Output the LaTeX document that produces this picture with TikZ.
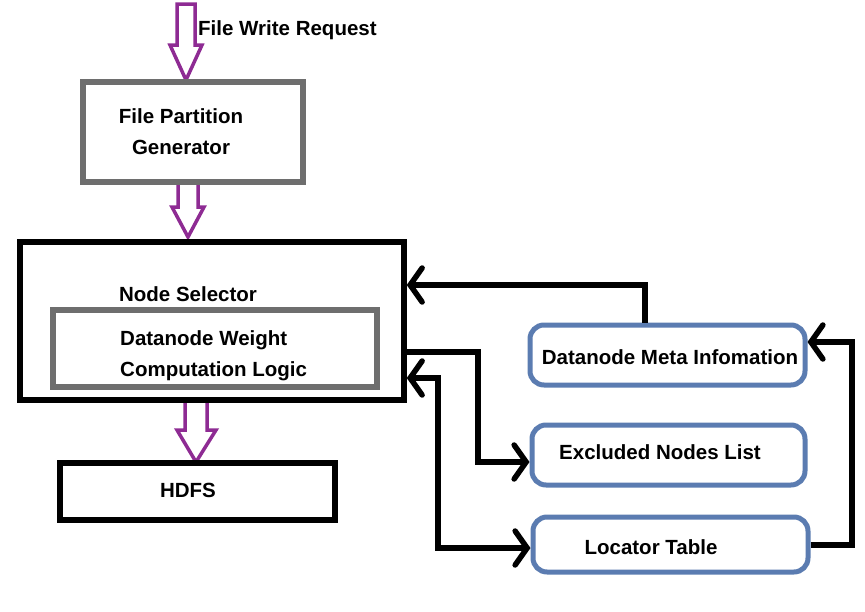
\documentclass[tikz,border=0pt]{standalone}
\usepackage{fontspec}
\setmainfont{Liberation Sans}
\usetikzlibrary{arrows.meta,calc}
\definecolor{purp}{RGB}{142,43,147}
\definecolor{boxgray}{RGB}{110,110,110}
\definecolor{pillblue}{RGB}{91,124,177}
\begin{document}
\begin{tikzpicture}[x=1pt,y=-1pt,
  txt/.style={font=\fontsize{20.5}{31}\selectfont\bfseries, inner sep=0pt},
  graybox/.style={draw=boxgray, line width=6pt, fill=white, inner sep=0pt},
  blackbox/.style={draw=black, line width=5.5pt, fill=white, inner sep=0pt},
  pill/.style={draw=pillblue, line width=5pt, rounded corners=14pt, fill=white, inner sep=0pt},
  barb/.tip={Straight Barb[length=12pt,width=34pt,line cap=round]},
  conn/.style={line width=5.5pt, -barb, line join=miter},
  biconn/.style={line width=5.5pt, barb-barb, line join=miter},
  hollow/.style={draw=purp, line width=3.5pt, fill=white, line join=miter}
]
\useasboundingbox (0,0) rectangle (865,611);
% hollow purple arrows
\draw[hollow] (177,4) -- (177,45) -- (170,45) -- (186,80) -- (202,45) -- (195,45) -- (195,4) -- cycle;
\draw[hollow] (178,180) -- (178,207) -- (172,207) -- (188,237) -- (204,207) -- (198,207) -- (198,180) -- cycle;
\draw[hollow] (185,398) -- (185,430) -- (177,430) -- (196,462) -- (216,430) -- (207,430) -- (207,398) -- cycle;
% boxes
\node[graybox, minimum width=220pt, minimum height=100pt] (fpg) at (193,132) {};
\node[txt, align=center] (fpgt) at (181,132) {File Partition\\Generator};
\node[blackbox, minimum width=384pt, minimum height=158pt] (ns) at (212,321) {};
\node[txt] (nst) at (188,294) {Node Selector};
\node[graybox, minimum width=324pt, minimum height=77pt] (dw) at (215,348.5) {};
\node[txt, align=left, anchor=west] (dwt) at (120,356) {Datanode Weight\\Computation Logic};
\node[blackbox, minimum width=275pt, minimum height=57pt] (hdfs) at (197.5,491.5) {};
\node[txt] (hdfst) at (188,490) {HDFS};
\node[pill, minimum width=275pt, minimum height=60pt] (meta) at (667.5,355) {};
\node[txt] (metat) at (670,357) {Datanode Meta Infomation};
\node[pill, minimum width=273pt, minimum height=60pt] (excl) at (668.5,455) {};
\node[txt] (exclt) at (660,452) {Excluded Nodes List};
\node[pill, minimum width=275pt, minimum height=55pt] (loc) at (670.5,544.5) {};
\node[txt] (loct) at (651,547) {Locator Table};
\node[txt, anchor=west] (req) at (198,30) {File Write Request};
% connectors
\coordinate (c1) at (645,285);
\draw[conn] (meta.north -| c1) |- (ns.east |- c1);
\coordinate (c2) at (478,352);
\coordinate (c2b) at (478,462);
\draw[conn] (ns.east |- c2) -| (c2b) -- (excl.west |- c2b);
\coordinate (c3) at (438,378);
\coordinate (c3b) at (438,548);
\draw[biconn] (ns.east |- c3) -| (c3b) -- (loc.west |- c3b);
\coordinate (c4) at (852,545);
\coordinate (c4b) at (852,342);
\draw[conn] (loc.east |- c4) -| (c4b) -- (meta.east |- c4b);
\end{tikzpicture}
\end{document}
